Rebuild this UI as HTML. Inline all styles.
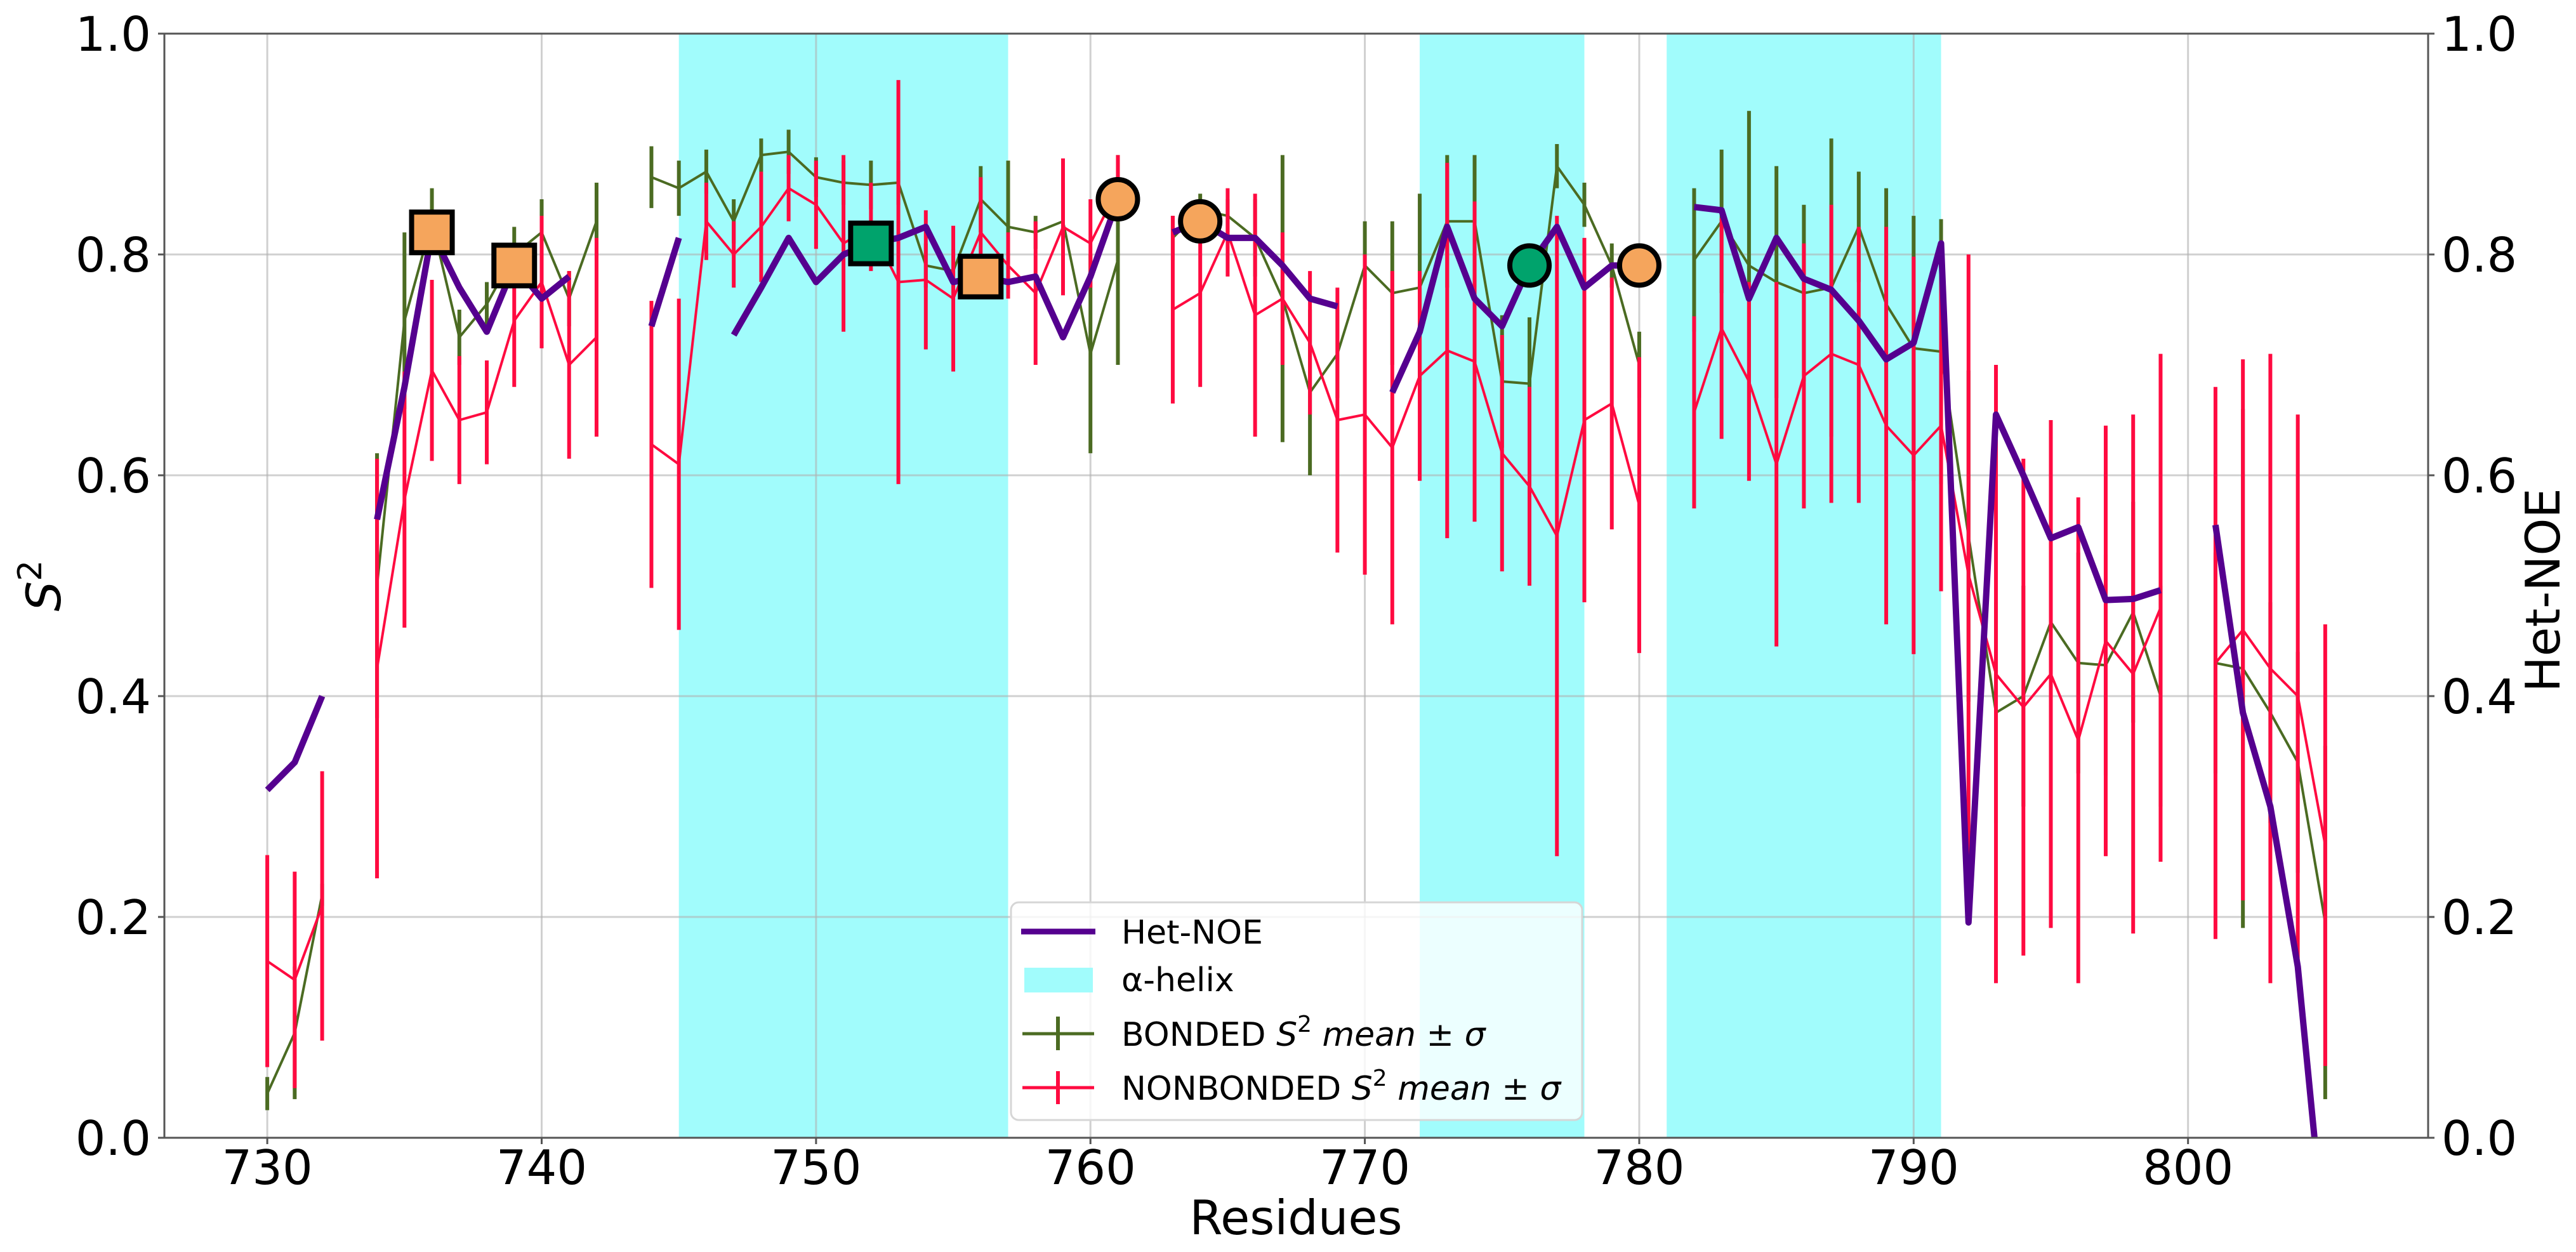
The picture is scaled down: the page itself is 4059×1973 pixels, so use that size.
<!DOCTYPE html>
<html><head><meta charset="utf-8"><style>
html,body{margin:0;padding:0;background:#fff;}
svg{display:block;font-family:"DejaVu Sans","Liberation Sans",sans-serif;}
</style></head><body>
<svg id="chart" xmlns="http://www.w3.org/2000/svg" width="4059" height="1973" viewBox="0 0 4059 1973"></svg>
<script>
const residues = [];
for (let r = 730; r <= 805; r++) residues.push(r);
const hetNoe = [0.315,0.34,0.40,null,0.56,0.68,0.82,0.77,0.73,0.79,0.76,0.78,null,null,0.735,0.815,null,0.727,0.77,0.815,0.775,0.80,0.81,0.815,0.825,0.775,0.78,0.775,0.78,0.725,0.78,0.85,null,0.82,0.83,0.815,0.815,0.79,0.76,0.753,null,0.675,0.73,0.825,0.76,0.735,0.79,0.825,0.77,0.79,0.79,null,0.843,0.84,0.76,0.815,0.778,0.768,0.74,0.705,0.72,0.81,0.195,0.655,0.60,0.543,0.553,0.487,0.488,0.496,null,0.555,0.385,0.30,0.155,-0.1];
const bondedMean = [0.04,0.095,0.22,null,0.50,0.74,0.83,0.725,0.755,0.80,0.82,0.76,0.83,null,0.87,0.86,0.875,0.83,0.89,0.893,0.87,0.865,0.863,0.865,0.79,0.785,0.85,0.825,0.82,0.83,0.71,0.795,null,0.815,0.84,0.835,0.815,0.76,0.675,0.71,0.79,0.765,0.77,0.83,0.83,0.685,0.683,0.88,0.845,0.79,0.70,null,0.795,0.83,0.79,0.775,0.765,0.77,0.825,0.755,0.715,0.712,0.545,0.385,0.40,0.467,0.43,0.428,0.476,0.40,null,0.43,0.425,0.385,0.34,0.195];
const bondedSigma = [0.015,0.06,0.01,null,0.12,0.08,0.03,0.025,0.02,0.025,0.03,0.025,0.035,null,0.028,0.025,0.02,0.02,0.015,0.02,0.018,0.02,0.022,0.02,0.02,0.02,0.03,0.06,0.015,0.035,0.09,0.095,null,0.02,0.015,0.015,0.035,0.13,0.075,0.04,0.04,0.065,0.085,0.06,0.06,0.06,0.06,0.02,0.02,0.02,0.03,null,0.065,0.065,0.14,0.105,0.08,0.135,0.05,0.105,0.12,0.12,0.15,0.1,0.1,0.1,0.1,0.1,0.1,0.1,null,0.1,0.235,0.1,0.1,0.16];
const nonbondedMean = [0.16,0.143,0.21,null,0.425,0.578,0.695,0.65,0.657,0.74,0.775,0.70,0.725,null,0.628,0.61,0.83,0.80,0.825,0.86,0.845,0.81,0.825,0.775,0.777,0.76,0.82,0.79,0.765,0.825,0.81,0.86,null,0.75,0.765,0.82,0.745,0.76,0.72,0.65,0.655,0.625,0.69,0.713,0.703,0.62,0.59,0.545,0.65,0.665,0.573,null,0.657,0.733,0.685,0.61,0.69,0.71,0.70,0.645,0.618,0.645,0.51,0.42,0.39,0.42,0.36,0.45,0.42,0.48,null,0.43,0.46,0.425,0.40,0.265];
const nonbondedSigma = [0.096,0.098,0.122,null,0.19,0.116,0.082,0.058,0.047,0.06,0.06,0.085,0.09,null,0.13,0.15,0.035,0.03,0.05,0.03,0.04,0.08,0.04,0.183,0.063,0.066,0.05,0.03,0.065,0.062,0.04,0.03,null,0.085,0.085,0.04,0.11,0.06,0.065,0.12,0.145,0.16,0.095,0.17,0.145,0.107,0.09,0.29,0.165,0.114,0.134,null,0.087,0.1,0.09,0.165,0.12,0.135,0.125,0.18,0.18,0.15,0.29,0.28,0.225,0.23,0.22,0.195,0.235,0.23,null,0.25,0.245,0.285,0.255,0.2];
const helixStart = [745,772,781];
const helixEnd = [757,778,791];
const squareRes = [736,739,752,756];
const squareVal = [0.82,0.79,0.81,0.78];
const squareColor = ['#f5a55c','#f5a55c','#00a36c','#f5a55c'];
const circleRes = [761,764,776,780];
const circleVal = [0.85,0.83,0.79,0.79];
const circleColor = ['#f5a55c','#f5a55c','#00a36c','#f5a55c'];
const xTicks = [730,740,750,760,770,780,790,800];
const yTicks = [0,0.2,0.4,0.6,0.8,1.0];
const yTickLabels = ['0.0','0.2','0.4','0.6','0.8','1.0'];

const L=259,R=3826,T=53,B=1793,XMIN=726.25,XMAX=808.75;
const X=v=>L+(v-XMIN)/(XMAX-XMIN)*(R-L);
const Y=v=>B-v*(B-T);
const NS='http://www.w3.org/2000/svg';
const svg=document.getElementById('chart');
function mk(tag,attrs,parent){const e=document.createElementNS(NS,tag);for(const k in attrs)e.setAttribute(k,attrs[k]);(parent||svg).appendChild(e);return e;}

const defs=mk('defs',{});
const cp=mk('clipPath',{id:'plotclip'},defs);
mk('rect',{x:L,y:T,width:R-L,height:B-T},cp);

helixStart.forEach((s,i)=>{
  const r=mk('rect',{x:X(s),y:T,width:X(helixEnd[i])-X(s),height:B-T,fill:'#a1fcfc'});
  
  
});
xTicks.forEach(t=>{
  const g=mk('line',{x1:X(t),x2:X(t),y1:T,y2:B,stroke:'#b0b0b0','stroke-width':3,'stroke-opacity':0.6});
  
  
});
yTicks.forEach(t=>{
  const g=mk('line',{x1:L,x2:R,y1:Y(t),y2:Y(t),stroke:'#b0b0b0','stroke-width':3,'stroke-opacity':0.6});
  
  
});

const plot=mk('g',{'clip-path':'url(#plotclip)'});



function segs(vals){const out=[];let cur=[];vals.forEach((v,i)=>{if(v===null){if(cur.length)out.push(cur);cur=[];}else cur.push([X(residues[i]),Y(v)]);});if(cur.length)out.push(cur);return out;}
function drawSeries(mean,sigma,color,name){
  const g=mk('g',{},plot);
  
  
  mean.forEach((v,i)=>{
    if(v===null)return;
    const b=mk('line',{x1:X(residues[i]),x2:X(residues[i]),y1:Y(v-sigma[i]),y2:Y(v+sigma[i]),stroke:color,'stroke-width':6},g);
    
    
  });
  segs(mean).forEach(s=>{
    const p=mk('polyline',{points:s.map(q=>q.join(',')).join(' '),fill:'none',stroke:color,'stroke-width':4,'stroke-linejoin':'round'},g);
    
    
  });
}
drawSeries(bondedMean,bondedSigma,'#4b6b22','bonded-s2');
drawSeries(nonbondedMean,nonbondedSigma,'#ff0a40','nonbonded-s2');
segs(hetNoe).forEach(s=>{
  const p=mk('polyline',{points:s.map(q=>q.join(',')).join(' '),fill:'none',stroke:'#55008f','stroke-width':10,'stroke-linejoin':'round'},plot);
  
  
});
squareRes.forEach((r,i)=>{
  const s=64;
  const m=mk('rect',{x:X(r)-s/2,y:Y(squareVal[i])-s/2,width:s,height:s,fill:squareColor[i],stroke:'#000','stroke-width':8});
  
  
});
circleRes.forEach((r,i)=>{
  const m=mk('circle',{cx:X(r),cy:Y(circleVal[i]),r:31,fill:circleColor[i],stroke:'#000','stroke-width':8});
  
  
});

const sp=mk('rect',{x:L,y:T,width:R-L,height:B-T,fill:'none',stroke:'#555','stroke-width':3});



xTicks.forEach(t=>{
  mk('line',{x1:X(t),x2:X(t),y1:B,y2:B+10,stroke:'#555','stroke-width':3});
  const tx=mk('text',{x:X(t),y:B+73,'font-size':75,'text-anchor':'middle',fill:'#000'});
  tx.textContent=t;
  
  
});
yTicks.forEach((t,i)=>{
  mk('line',{x1:L-10,x2:L,y1:Y(t),y2:Y(t),stroke:'#555','stroke-width':3});
  mk('line',{x1:R,x2:R+10,y1:Y(t),y2:Y(t),stroke:'#555','stroke-width':3});
  const a=mk('text',{x:L-21,y:Y(t)+27,'font-size':75,'text-anchor':'end',fill:'#000'});
  a.textContent=yTickLabels[i];
  
  
  const b=mk('text',{x:R+21,y:Y(t)+27,'font-size':75,'text-anchor':'start',fill:'#000'});
  b.textContent=yTickLabels[i];
  
  
});
</script>
<svg style="position:absolute;left:0;top:0" width="4059" height="1973" xmlns="http://www.w3.org/2000/svg">
<text x="2042" y="1945" font-size="75" text-anchor="middle" font-family="DejaVu Sans, sans-serif">Residues</text>
<text transform="translate(95,923) rotate(-90)" font-size="75" text-anchor="middle" font-family="DejaVu Sans, sans-serif"><tspan font-style="italic">S</tspan><tspan font-size="52" dy="-30">2</tspan></text>
<text transform="translate(4033,930) rotate(-90)" font-size="75" text-anchor="middle" font-family="DejaVu Sans, sans-serif">Het-NOE</text>
<g font-family="DejaVu Sans, sans-serif" font-size="52">
<rect x="1593" y="1422" width="900" height="343" rx="12" fill="#fff" fill-opacity="0.8" stroke="#d6d6d6" stroke-width="3"/>
<line x1="1609" x2="1726" y1="1468" y2="1468" stroke="#55008f" stroke-width="9"/>
<text x="1767" y="1487">Het-NOE</text>
<rect x="1614" y="1525" width="108" height="39" fill="#a1fcfc"/>
<text x="1767" y="1562">α-helix</text>
<line x1="1611" x2="1724" y1="1629" y2="1629" stroke="#4b6b22" stroke-width="5"/>
<line x1="1667" x2="1667" y1="1602" y2="1655" stroke="#4b6b22" stroke-width="6"/>
<text x="1767" y="1648">BONDED <tspan font-style="italic">S</tspan><tspan font-size="36" dy="-22">2</tspan><tspan dy="22" font-style="italic"> mean</tspan> ± <tspan font-style="italic">σ</tspan></text>
<line x1="1611" x2="1724" y1="1714" y2="1714" stroke="#ff0a40" stroke-width="5"/>
<line x1="1667" x2="1667" y1="1688" y2="1740" stroke="#ff0a40" stroke-width="6"/>
<text x="1767" y="1733">NONBONDED <tspan font-style="italic">S</tspan><tspan font-size="36" dy="-22">2</tspan><tspan dy="22" font-style="italic"> mean</tspan> ± <tspan font-style="italic">σ</tspan></text>
</g>
</svg>
</body></html>
